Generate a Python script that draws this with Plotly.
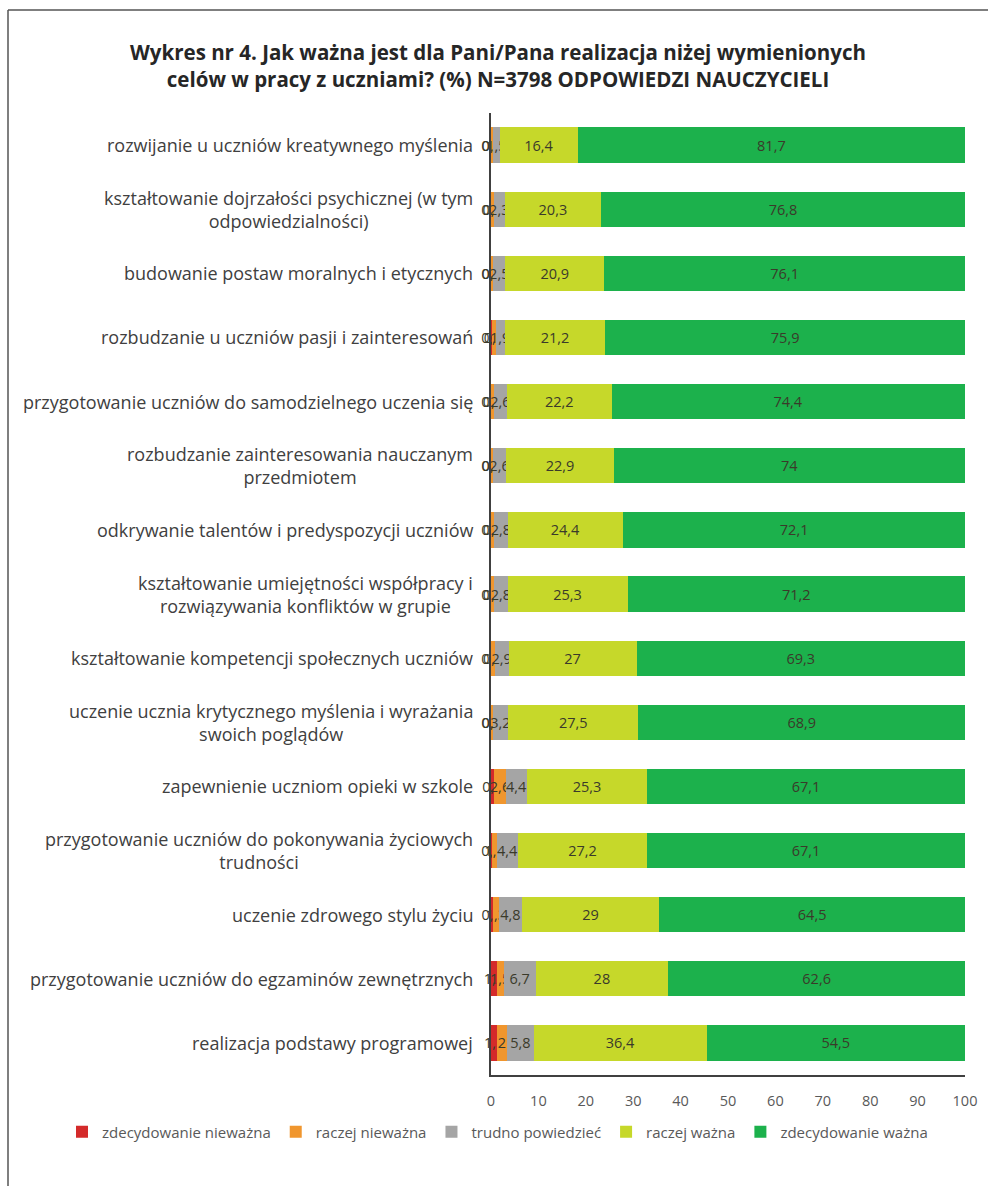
import plotly.graph_objects as go

# Survey goals (top to bottom)
categories = [
    "rozwijanie u uczniów kreatywnego myślenia",
    "kształtowanie dojrzałości psychicznej (w tym<br>odpowiedzialności)",
    "budowanie postaw moralnych i etycznych",
    "rozbudzanie u uczniów pasji i zainteresowań",
    "przygotowanie uczniów do samodzielnego uczenia się",
    "rozbudzanie zainteresowania nauczanym<br>przedmiotem",
    "odkrywanie talentów i predyspozycji uczniów",
    "kształtowanie umiejętności współpracy i<br>rozwiązywania konfliktów w grupie",
    "kształtowanie kompetencji społecznych uczniów",
    "uczenie ucznia krytycznego myślenia i wyrażania<br>swoich poglądów",
    "zapewnienie uczniom opieki w szkole",
    "przygotowanie uczniów do pokonywania życiowych<br>trudności",
    "uczenie zdrowego stylu życiu",
    "przygotowanie uczniów do egzaminów zewnętrznych",
    "realizacja podstawy programowej",
]

zdecydowanie_niewazna = [0.1, 0.1, 0.1, 0.2, 0.1, 0.1, 0.1, 0.1, 0.1, 0.1, 0.6, 0.2, 0.4, 1.2, 1.3]
raczej_niewazna = [0.3, 0.5, 0.4, 0.8, 0.6, 0.4, 0.6, 0.6, 0.7, 0.3, 2.6, 1.1, 1.3, 1.5, 2.0]
trudno_powiedziec = [1.5, 2.3, 2.5, 1.9, 2.6, 2.6, 2.8, 2.8, 2.9, 3.2, 4.4, 4.4, 4.8, 6.7, 5.8]
raczej_wazna = [16.4, 20.3, 20.9, 21.2, 22.2, 22.9, 24.4, 25.3, 27, 27.5, 25.3, 27.2, 29, 28, 36.4]
zdecydowanie_wazna = [81.7, 76.8, 76.1, 75.9, 74.4, 74, 72.1, 71.2, 69.3, 68.9, 67.1, 67.1, 64.5, 62.6, 54.5]

series = [
    ("zdecydowanie nieważna", zdecydowanie_niewazna, "#d42a2a"),
    ("raczej nieważna", raczej_niewazna, "#f0962e"),
    ("trudno powiedzieć", trudno_powiedziec, "#a5a5a5"),
    ("raczej ważna", raczej_wazna, "#c6d82a"),
    ("zdecydowanie ważna", zdecydowanie_wazna, "#1cb14c"),
]


def fmt(v):
    return f"{v:g}".replace(".", ",")


W, H = 988, 1186
L, R, T, B = 491, 23, 113, 111
PW, PH = W - L - R, H - T - B
FONT = "Open Sans, sans-serif"

fig = go.Figure()
for name, vals, color in series:
    fig.add_trace(go.Bar(
        y=categories, x=vals, name=name, orientation="h",
        marker=dict(color=color, line=dict(width=0)),
        text=[fmt(v) for v in vals],
        textposition="inside", insidetextanchor="middle", textangle=0,
        textfont=dict(family=FONT, size=14.5, color="#3a3a2a"),
        constraintext="none", cliponaxis=False,
    ))

# Category labels drawn as centred multi-line annotations
for c in categories:
    fig.add_annotation(
        x=0, xref="paper", y=c, yref="y", text=c, showarrow=False,
        xanchor="right", yanchor="middle", align="center", xshift=-16,
        font=dict(family=FONT, size=18, color="#404040"),
    )

# Frame lines (left and top)
fig.add_shape(type="line", xref="paper", yref="paper",
              x0=(8 - L) / PW, x1=(W + 5 - L) / PW,
              y0=1 + (T - 10) / PH, y1=1 + (T - 10) / PH,
              line=dict(color="#555555", width=1.5))
fig.add_shape(type="line", xref="paper", yref="paper",
              x0=(8 - L) / PW, x1=(8 - L) / PW,
              y0=1 + (T - 10) / PH, y1=-(B + 5) / PH,
              line=dict(color="#555555", width=1.5))

fig.update_layout(
    width=W, height=H,
    margin=dict(l=L, r=R, t=T, b=B),
    barmode="stack", bargap=0.45,
    plot_bgcolor="white", paper_bgcolor="white",
    uniformtext=dict(minsize=14, mode="show"),
    title=dict(
        text="Wykres nr 4. Jak ważna jest dla Pani/Pana realizacja niżej wymienionych<br>"
             "celów w pracy z uczniami? (%) N=3798 ODPOWIEDZI NAUCZYCIELI",
        x=498 / W, xanchor="center", y=1 - 60 / H, yanchor="middle",
        font=dict(family=FONT, size=20.5, color="#262626", weight="bold"),
    ),
    xaxis=dict(
        range=[0, 100], dtick=10, showgrid=False, zeroline=False,
        showline=True, linecolor="#404040", linewidth=1.5,
        ticks="", ticklabelstandoff=12,
        tickfont=dict(family=FONT, size=14.5, color="#595959"),
    ),
    yaxis=dict(
        autorange="reversed", showticklabels=False, showgrid=False,
        showline=True, linecolor="#404040", linewidth=1.5, ticks="",
    ),
    legend=dict(
        orientation="h", x=(62 - L) / PW, xanchor="left",
        y=-57 / PH, yanchor="middle", traceorder="normal",
        font=dict(family=FONT, size=15, color="#595959"),
        itemwidth=30, tracegroupgap=0,
    ),
)

fig.write_html("out.html")
